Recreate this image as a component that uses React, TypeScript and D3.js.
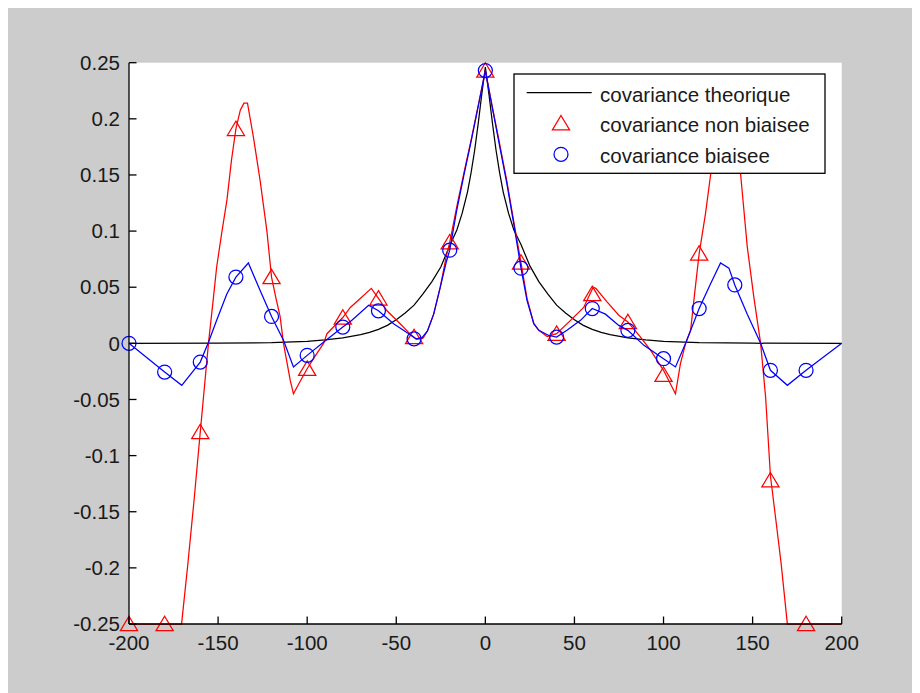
import React from "react";
import * as d3 from "d3";

// ---------- data ----------
const X_TICKS = [-200, -150, -100, -50, 0, 50, 100, 150, 200];
const Y_TICKS = [-0.25, -0.2, -0.15, -0.1, -0.05, 0, 0.05, 0.1, 0.15, 0.2, 0.25];
const Y_TICK_LABELS = ["-0.25", "-0.2", "-0.15", "-0.1", "-0.05", "0", "0.05", "0.1", "0.15", "0.2", "0.25"];

const SERIES_NAMES = ["covariance theorique", "covariance non biaisee", "covariance biaisee"];

// theoretical covariance
const THEO_X = [-200, -150, -120, -100, -90, -80, -70, -65, -60, -55, -50, -45, -40, -35, -30, -25, -20, -16, -13, -10, -8, -6, -4, -2, 0,
  2, 4, 6, 8, 10, 13, 16, 20, 25, 30, 35, 40, 45, 50, 55, 60, 65, 70, 80, 90, 100, 120, 150, 200];
const THEO_Y = [0, 0.0001, 0.0006, 0.0018, 0.003, 0.0048, 0.0078, 0.0098, 0.0125, 0.016, 0.021, 0.027, 0.034, 0.044, 0.055, 0.068, 0.087, 0.101, 0.116, 0.135, 0.152, 0.172, 0.196, 0.222, 0.246,
  0.222, 0.196, 0.172, 0.152, 0.135, 0.116, 0.101, 0.088, 0.069, 0.055, 0.044, 0.034, 0.027, 0.021, 0.016, 0.0125, 0.0098, 0.0078, 0.0048, 0.003, 0.0018, 0.0006, 0.0001, 0];

// unbiased covariance (line)
const NB_X = [-200, -170.5, -167, -163.5, -160, -157.5, -155.4, -153, -150.8, -148, -145, -142.5, -140, -137.5, -135.5, -133.5, -130.2, -126.4, -122.6, -120, -117.5, -115.2, -113.3, -109.5, -107.7, -104, -100, -95, -90.8, -88.9, -85, -80, -75.8, -70.2, -64, -60, -55.2, -47.8, -42, -38.5, -35, -32.5, -29, -25.3, -22, -20, -16, -12, -8, -4, 0,
  4, 8, 12, 16, 20, 23.4, 27.2, 30, 34.7, 40, 47.8, 55.2, 60.5, 62, 68.3, 74.9, 80, 87.1, 92.7, 100, 106.7, 109.5, 112.4, 115.2, 117.5, 120, 123.6, 126.4, 130, 133, 136, 139, 141.5, 143.3, 147, 150.7, 154.5, 157.3, 160, 163.1, 166, 169.5, 200];
const NB_Y = [-0.25, -0.25, -0.197, -0.14, -0.079, -0.036, 0, 0.035, 0.068, 0.098, 0.128, 0.163, 0.191, 0.208, 0.214, 0.214, 0.184, 0.145, 0.1, 0.059, 0.04, 0.024, 0, -0.033, -0.045, -0.034, -0.0226, -0.01, 0, 0.0086, 0.015, 0.023, 0.032, 0.04, 0.049, 0.04, 0.029, 0.0175, 0.008, 0.0035, 0.0045, 0.011, 0.026, 0.05, 0.077, 0.09, 0.122, 0.152, 0.181, 0.212, 0.243,
  0.21, 0.178, 0.145, 0.108, 0.072, 0.04, 0.0175, 0.0116, 0.006, 0.0086, 0.0205, 0.032, 0.05, 0.049, 0.037, 0.025, 0.019, 0.0056, -0.006, -0.024, -0.045, -0.018, 0, 0.0116, 0.045, 0.08, 0.116, 0.15, 0.188, 0.21, 0.212, 0.195, 0.17, 0.15, 0.086, 0.041, 0, -0.048, -0.118, -0.158, -0.196, -0.25, -0.25];

// biased covariance (line)
const B_X = [-200, -180, -170.4, -160, -155.4, -150.8, -145.1, -140, -133, -126.4, -120, -113.3, -107.7, -100, -90, -80, -74.9, -65.5, -60, -51.5, -43, -39, -35.5, -32.5, -29, -25.3, -22, -20, -16, -12, -8, -4, 0,
  4, 8, 12, 16, 20, 23.4, 27.2, 30, 35.6, 40, 45.8, 53.4, 60, 67.4, 74.9, 80, 89, 100, 106.7, 112.4, 120, 126.4, 132, 136.7, 140, 147, 154.5, 160, 169.5, 180, 200];
const B_Y = [0, -0.0256, -0.0374, -0.0167, 0.001, 0.0205, 0.044, 0.059, 0.0716, 0.047, 0.024, 0.0027, -0.021, -0.0107, 0.002, 0.0145, 0.0205, 0.034, 0.029, 0.0175, 0.0086, 0.004, 0.005, 0.011, 0.026, 0.05, 0.072, 0.083, 0.119, 0.15, 0.18, 0.211, 0.243,
  0.209, 0.176, 0.143, 0.106, 0.067, 0.038, 0.0175, 0.0116, 0.007, 0.0056, 0.0116, 0.0205, 0.031, 0.026, 0.016, 0.0116, -0.0018, -0.0137, -0.021, 0, 0.031, 0.053, 0.0716, 0.067, 0.052, 0.026, 0, -0.024, -0.0374, -0.024, 0];

// markers (every 20 lags)
const MARK_X = [-200, -180, -160, -140, -120, -100, -80, -60, -40, -20, 0, 20, 40, 60, 80, 100, 120, 140, 160, 180];
const NB_MARK = [-0.25, -0.25, -0.079, 0.191, 0.059, -0.0226, 0.023, 0.04, 0.0056, 0.09, 0.243, 0.072, 0.0086, 0.044, 0.019, -0.028, 0.08, 0.19, -0.122, -0.25];
const B_MARK = [0, -0.0256, -0.0167, 0.059, 0.024, -0.0107, 0.0145, 0.029, 0.004, 0.083, 0.243, 0.067, 0.0056, 0.031, 0.0116, -0.0137, 0.031, 0.052, -0.024, -0.024];

// ---------- layout ----------
const W = 912;
const H = 685;
const PL = 121, PR = 833.7, PT = 54.7, PB = 616;
const FONT = "'Liberation Sans', Arial, Helvetica, sans-serif";
const FS = 20.5;

const xs = d3.scaleLinear().domain([-200, 200]).range([PL, PR]);
const ys = d3.scaleLinear().domain([-0.25, 0.25]).range([PB, PT]);

const lineGen = d3.line<[number, number]>().x((d) => xs(d[0])).y((d) => ys(d[1]));
const zip = (a: number[], b: number[]): [number, number][] => a.map((v, i) => [v, b[i]]);

const triPath = (cx: number, cy: number) =>
  `M${cx},${cy - 7.8}L${cx + 8.6},${cy + 6.6}L${cx - 8.6},${cy + 6.6}Z`;

export default function App() {
  const theo = lineGen(zip(THEO_X, THEO_Y)) || "";
  const nb = lineGen(zip(NB_X, NB_Y)) || "";
  const b = lineGen(zip(B_X, B_Y)) || "";
  const lw = 1.25;

  const LX = 506, LY = 66, LW = 311, LH = 99.3;

  return (
    <svg width={W} height={H} style={{ display: "block" }} fontFamily={FONT}>
      <rect x={0} y={0} width={W} height={H} fill="#cccccc" />
      <rect x={PL} y={PT} width={PR - PL} height={PB - PT} fill="#ffffff" />

      <defs>
        <clipPath id="plotclip">
          <rect x={PL - 12} y={PT - 12} width={PR - PL + 24} height={PB - PT + 24} />
        </clipPath>
      </defs>

      <g clipPath="url(#plotclip)">
        <path d={theo} fill="none" stroke="#000" strokeWidth={lw} />
        <path d={nb} fill="none" stroke="#ff0000" strokeWidth={lw} />
        {MARK_X.map((x, i) => (
          <path key={"t" + i} d={triPath(xs(x), ys(NB_MARK[i]))} fill="none" stroke="#ff0000" strokeWidth={lw} />
        ))}
        <path d={b} fill="none" stroke="#0000ff" strokeWidth={lw} />
        {MARK_X.map((x, i) => (
          <circle key={"c" + i} cx={xs(x)} cy={ys(B_MARK[i])} r={7} fill="none" stroke="#0000ff" strokeWidth={lw} />
        ))}
      </g>

      {/* axes */}
      <line x1={PL} x2={PL} y1={PT} y2={PB} stroke="#000" strokeWidth={1.3} />
      <line x1={PL} x2={PR} y1={PB} y2={PB} stroke="#000" strokeWidth={1.3} />
      {Y_TICKS.map((t, i) => (
        <g key={"y" + i}>
          <line x1={PL} x2={PL + 7.5} y1={ys(t)} y2={ys(t)} stroke="#000" strokeWidth={1.3} />
          <text x={PL - 9} y={ys(t)} dy="0.35em" textAnchor="end" fontSize={FS} fill="#1a1a1a">
            {Y_TICK_LABELS[i]}
          </text>
        </g>
      ))}
      {X_TICKS.map((t, i) => (
        <g key={"x" + i}>
          <line x1={xs(t)} x2={xs(t)} y1={PB} y2={PB - 7.5} stroke="#000" strokeWidth={1.3} />
          <text x={xs(t)} y={642} textAnchor="middle" fontSize={FS} fill="#1a1a1a">
            {String(t)}
          </text>
        </g>
      ))}

      {/* legend */}
      <rect x={LX} y={LY} width={LW} height={LH} fill="#ffffff" stroke="#000" strokeWidth={1.3} />
      <line x1={518.7} x2={583.7} y1={84.7} y2={84.7} stroke="#000" strokeWidth={lw} />
      <path d={triPath(553, 115.3)} fill="none" stroke="#ff0000" strokeWidth={lw} />
      <circle cx={553} cy={146.3} r={7} fill="none" stroke="#0000ff" strokeWidth={lw} />
      {SERIES_NAMES.map((s, i) => (
        <text key={"l" + i} x={592} y={93.7 + i * 30.5} fontSize={FS} fill="#1a1a1a">
          {s}
        </text>
      ))}
    </svg>
  );
}
